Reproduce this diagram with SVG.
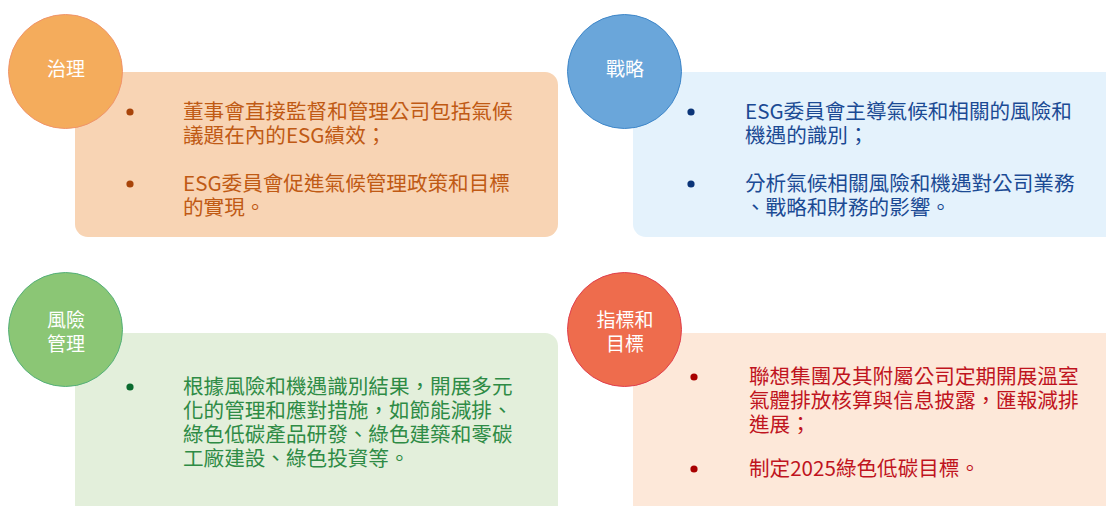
<svg xmlns="http://www.w3.org/2000/svg" width="1106" height="506" viewBox="0 0 1106 506">
<style>
.t{font-family:"Noto Sans CJK TC","Noto Sans CJK SC",sans-serif;font-size:20.6px}
.c{font-family:"Noto Sans CJK TC","Noto Sans CJK SC",sans-serif;font-size:19px;fill:#ffffff;text-anchor:middle}
.o{fill:#C05A14}
.b{fill:#1B4A94}
.g{fill:#2E8B45}
.r{fill:#C0141E}
</style>
<rect width="1106" height="506" fill="#ffffff"/>
<g id="governance">
<rect x="75" y="72" width="483" height="165" rx="13" fill="#F8D4B4"/>
<circle cx="65.5" cy="71.5" r="57" fill="#F4AC5C" stroke="#F0946A" stroke-width="1"/>
<text class="c" x="66" y="76">治理</text>
<circle cx="130" cy="112" r="3.6" fill="#A8440A"/>
<text class="t o" x="183" y="119">董事會直接監督和管理公司包括氣候</text>
<text class="t o" x="183" y="143">議題在內的ESG績效；</text>
<circle cx="130" cy="184" r="3.6" fill="#A8440A"/>
<text class="t o" x="183" y="191">ESG委員會促進氣候管理政策和目標</text>
<text class="t o" x="183" y="215">的實現。</text>
</g>
<g id="strategy">
<rect x="633" y="72" width="490" height="165" rx="13" fill="#E4F2FC"/>
<circle cx="624.5" cy="71.5" r="57" fill="#6AA6DA" stroke="#3F87C9" stroke-width="1"/>
<text class="c" x="625" y="76">戰略</text>
<circle cx="691" cy="112" r="3.6" fill="#0B3578"/>
<text class="t b" x="745" y="119">ESG委員會主導氣候和相關的風險和</text>
<text class="t b" x="745" y="143">機遇的識別；</text>
<circle cx="691" cy="184" r="3.6" fill="#0B3578"/>
<text class="t b" x="745" y="191">分析氣候相關風險和機遇對公司業務</text>
<text class="t b" x="745" y="215">、戰略和財務的影響。</text>
</g>
<g id="risk">
<rect x="75" y="333" width="483" height="185" rx="13" fill="#E3EFDB"/>
<circle cx="65.5" cy="329.5" r="57" fill="#8BC675" stroke="#55B07A" stroke-width="1"/>
<text class="c" x="66" y="327">風險</text>
<text class="c" x="66" y="351">管理</text>
<circle cx="130" cy="387" r="3.6" fill="#0A6A2E"/>
<text class="t g" x="183" y="394">根據風險和機遇識別結果，開展多元</text>
<text class="t g" x="183" y="418">化的管理和應對措施，如節能減排、</text>
<text class="t g" x="183" y="442">綠色低碳產品研發、綠色建築和零碳</text>
<text class="t g" x="183" y="466">工廠建設、綠色投資等。</text>
</g>
<g id="metrics">
<rect x="633" y="333" width="490" height="185" rx="13" fill="#FDE8D9"/>
<circle cx="624.5" cy="329.5" r="57" fill="#EE6C4D" stroke="#E0404E" stroke-width="1"/>
<text class="c" x="625" y="327">指標和</text>
<text class="c" x="625" y="351">目標</text>
<circle cx="694" cy="377" r="3.6" fill="#A80000"/>
<text class="t r" x="749" y="384">聯想集團及其附屬公司定期開展溫室</text>
<text class="t r" x="749" y="408">氣體排放核算與信息披露，匯報減排</text>
<text class="t r" x="749" y="432">進展；</text>
<circle cx="694" cy="469" r="3.6" fill="#A80000"/>
<text class="t r" x="749" y="476">制定2025綠色低碳目標。</text>
</g>
<g id="connectors"/>
</svg>
